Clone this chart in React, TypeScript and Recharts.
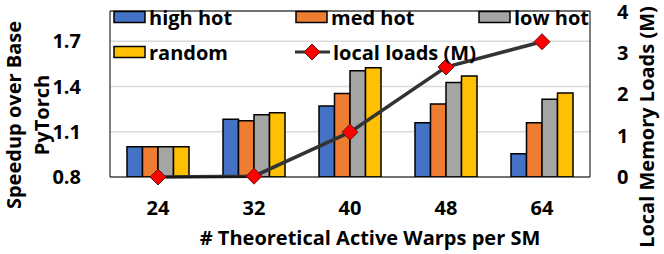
import React from "react";
import {
  ComposedChart,
  Bar,
  Line,
  XAxis,
  YAxis,
  CartesianGrid,
  ReferenceLine,
  Label,
} from "recharts";

const categories = ["24", "32", "40", "48", "64"];
const highHot = [1.0, 1.182, 1.27, 1.16, 0.954];
const medHot = [1.0, 1.173, 1.354, 1.283, 1.16];
const lowHot = [1.0, 1.213, 1.504, 1.427, 1.315];
const randomVals = [1.0, 1.226, 1.524, 1.469, 1.356];
const localLoads = [0.0, 0.02, 1.08, 2.65, 3.26];

const leftTicks = [0.8, 1.1, 1.4, 1.7];
const rightTicks = [0, 1, 2, 3, 4];

const barSeries = [
  { key: "high", name: "high hot", color: "#4472C4" },
  { key: "med", name: "med hot", color: "#ED7D31" },
  { key: "low", name: "low hot", color: "#A5A5A5" },
  { key: "rand", name: "random", color: "#FFC000" },
];
const lineName = "local loads (M)";

const data = categories.map((c, i) => ({
  cat: c,
  high: highHot[i],
  med: medHot[i],
  low: lowHot[i],
  rand: randomVals[i],
  loads: localLoads[i],
}));

const FONT = "'Open Sans', sans-serif";
const FS = 20;

const Diamond = (props: any) => {
  const { cx, cy } = props;
  if (cx == null || cy == null) return null;
  const r = 8;
  return (
    <path
      d={`M${cx},${cy - r} L${cx + r},${cy} L${cx},${cy + r} L${cx - r},${cy} Z`}
      fill="#FF0000"
      stroke="#5a1a1a"
      strokeWidth={1}
    />
  );
};

const LeftTitle = () => {
  const cy = 115;
  return (
    <g>
      <text
        x={13}
        y={cy}
        transform={`rotate(-90, 13, ${cy})`}
        textAnchor="middle"
        dominantBaseline="central"
        fontFamily={FONT}
        fontWeight="bold"
        fontSize={FS}
        fill="#000"
      >
        Speedup over Base
      </text>
      <text
        x={41}
        y={cy}
        transform={`rotate(-90, 41, ${cy})`}
        textAnchor="middle"
        dominantBaseline="central"
        fontFamily={FONT}
        fontWeight="bold"
        fontSize={FS}
        fill="#000"
      >
        PyTorch
      </text>
    </g>
  );
};

const RightTitle = () => {
  const x = 646;
  const cy = 127;
  return (
    <text
      x={x}
      y={cy}
      transform={`rotate(-90, ${x}, ${cy})`}
      textAnchor="middle"
      dominantBaseline="central"
      fontFamily={FONT}
      fontWeight="bold"
      fontSize={FS}
      fill="#000"
    >
      Local Memory Loads (M)
    </text>
  );
};

const BottomTitle = () => (
  <text
    x={370}
    y={237}
    textAnchor="middle"
    dominantBaseline="central"
    fontFamily={FONT}
    fontWeight="bold"
    fontSize={FS}
    fill="#000"
  >
    # Theoretical Active Warps per SM
  </text>
);

const legendPos = [
  { x: 113, y: 17 },
  { x: 295, y: 17 },
  { x: 478, y: 17 },
  { x: 113, y: 52 },
];

const LegendOverlay = () => (
  <div style={{ position: "absolute", left: 0, top: 0, width: 664, height: 254, pointerEvents: "none" }}>
    {barSeries.map((s, i) => (
      <div
        key={s.key}
        style={{
          position: "absolute",
          left: legendPos[i].x,
          top: legendPos[i].y - 14,
          height: 28,
          display: "flex",
          alignItems: "center",
          fontFamily: FONT,
          fontWeight: "bold",
          fontSize: FS,
          whiteSpace: "nowrap",
        }}
      >
        <svg width={36} height={14} style={{ display: "block" }}>
          <rect x={1} y={1.5} width={31} height={11} fill={s.color} stroke="#000" strokeWidth={1.5} />
        </svg>
        <span>{s.name}</span>
      </div>
    ))}
    <div
      style={{
        position: "absolute",
        left: 295,
        top: 52 - 14,
        height: 28,
        display: "flex",
        alignItems: "center",
        fontFamily: FONT,
        fontWeight: "bold",
        fontSize: FS,
        whiteSpace: "nowrap",
      }}
    >
      <svg width={38} height={20} style={{ display: "block" }}>
        <line x1={0} y1={10} x2={35} y2={10} stroke="#333" strokeWidth={3} />
        <path d="M17,2 L25,10 L17,18 L9,10 Z" fill="#FF0000" stroke="#5a1a1a" strokeWidth={1} />
      </svg>
      <span>{lineName}</span>
    </div>
  </div>
);

export default function App() {
  return (
    <div style={{ position: "absolute", left: 0, top: 0, width: 664, height: 254, background: "#fff" }}>
      <ComposedChart
        width={664}
        height={254}
        data={data}
        margin={{ top: 11, right: 0, left: 0, bottom: 0 }}
        barGap={0}
        barCategoryGap={17}
      >
        <CartesianGrid yAxisId="left" horizontal vertical={false} stroke="#d9d9d9" strokeWidth={1.5} />
        <XAxis
          dataKey="cat"
          height={77}
          tickLine={false}
          axisLine={{ stroke: "#000", strokeWidth: 1 }}
          tick={{ fontFamily: FONT, fontWeight: "bold", fontSize: FS, fill: "#000" }}
          tickMargin={18}
        >
          <Label content={<BottomTitle />} />
        </XAxis>
        <YAxis
          yAxisId="left"
          width={110}
          domain={[0.8, 1.9]}
          ticks={leftTicks}
          tickFormatter={(v: number) => v.toFixed(1)}
          tickLine={false}
          axisLine={{ stroke: "#000", strokeWidth: 1 }}
          tick={{ fontFamily: FONT, fontWeight: "bold", fontSize: FS, fill: "#000" }}
          tickMargin={23}
          allowDataOverflow
        >
          <Label content={<LeftTitle />} />
        </YAxis>
        <YAxis
          yAxisId="right"
          orientation="right"
          width={74}
          domain={[0, 4]}
          ticks={rightTicks}
          tickLine={false}
          axisLine={{ stroke: "#000", strokeWidth: 1 }}
          tick={{ fontFamily: FONT, fontWeight: "bold", fontSize: FS, fill: "#000" }}
          tickMargin={21}
        >
          <Label content={<RightTitle />} />
        </YAxis>
        {barSeries.map((s) => (
          <Bar
            key={s.key}
            yAxisId="left"
            dataKey={s.key}
            name={s.name}
            fill={s.color}
            stroke="#000"
            strokeWidth={1.5}
            barSize={15.5}
            isAnimationActive={false}
          />
        ))}
        <ReferenceLine yAxisId="left" y={1.9} stroke="#000" strokeWidth={1} />
        <Line
          yAxisId="right"
          dataKey="loads"
          name={lineName}
          type="linear"
          stroke="#333"
          strokeWidth={3.5}
          dot={<Diamond />}
          activeDot={false}
          isAnimationActive={false}
        />
      </ComposedChart>
      <LegendOverlay />
    </div>
  );
}
